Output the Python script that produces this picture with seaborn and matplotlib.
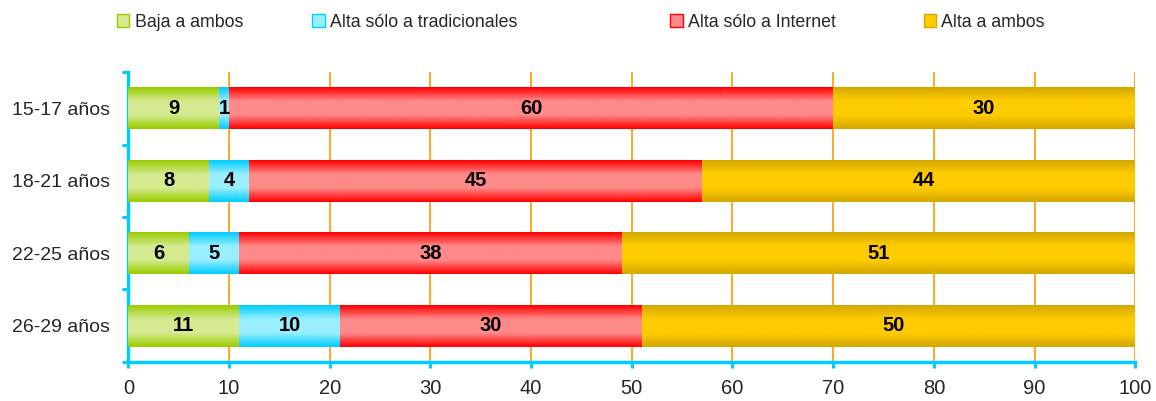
import numpy as np
import matplotlib
matplotlib.use("Agg")
import matplotlib.pyplot as plt
import matplotlib.patches as mpatches
from matplotlib.colors import LinearSegmentedColormap
import pandas as pd
import seaborn as sns

grupos = ["15-17 años", "18-21 años", "22-25 años", "26-29 años"]
series = ["Baja a ambos", "Alta sólo a tradicionales", "Alta sólo a Internet", "Alta a ambos"]
baja_ambos = [9, 8, 6, 11]
alta_trad = [1, 4, 5, 10]
alta_internet = [60, 45, 38, 30]
alta_ambos = [30, 44, 51, 50]
x_ticks = [0, 10, 20, 30, 40, 50, 60, 70, 80, 90, 100]

# (borde, centro) del degradado de cada serie
colores = [
    ("#99cc00", "#d6ea90"),
    ("#00ccff", "#99eeff"),
    ("#ff0000", "#ff8a8a"),
    ("#d4a800", "#ffcc00"),
]
legend_x = [0.101, 0.270, 0.580, 0.799]

valores = [baja_ambos, alta_trad, alta_internet, alta_ambos]
df = pd.DataFrame({"grupo": grupos})
acum = np.zeros(len(grupos))
for nombre, vals in zip(series, valores):
    acum = acum + np.array(vals)
    df[nombre] = acum.copy()

sns.set_style("white")
plt.rcParams["font.family"] = ["Liberation Sans", "DejaVu Sans"]

fig, ax = plt.subplots(figsize=(11.56, 4.01), dpi=100)
fig.subplots_adjust(left=0.111, right=0.982, top=0.82, bottom=0.098)

# barras apiladas: se dibuja de la mayor suma a la menor
for nombre, (borde, centro) in reversed(list(zip(series, colores))):
    sns.barplot(data=df, y="grupo", x=nombre, orient="h", color=centro,
                width=0.58, saturation=1, linewidth=0, ax=ax, zorder=3)

# degradado vertical dentro de cada barra (recortado a 0-100)
n = len(grupos)
for idx, patch in enumerate(ax.patches):
    serie_idx = len(series) - 1 - idx // n
    borde, centro = colores[serie_idx]
    cmap = LinearSegmentedColormap.from_list("g", [borde, centro, centro, borde])
    x0, y0 = patch.get_x(), patch.get_y()
    w, h = patch.get_width(), patch.get_height()
    x1 = min(x0 + w, 100)
    patch.set_width(x1 - x0)
    grad = np.linspace(0, 1, 64).reshape(-1, 1)
    im = ax.imshow(grad, cmap=cmap, aspect="auto", extent=(x0, x1, y0 + h, y0),
                   zorder=3.5, interpolation="bicubic")
    im.set_clip_path(patch)

# etiquetas de valores
acum = np.zeros(n)
for vals in valores:
    for i, v in enumerate(vals):
        ax.text(acum[i] + v / 2, i, str(v), ha="center", va="center",
                fontsize=14.5, fontweight="bold", color="black", zorder=5)
    acum = acum + np.array(vals)

ax.set_xlim(0, 100)
ax.set_ylim(n - 0.5, -0.5)
ax.set_xticks(x_ticks)
ax.set_xlabel("")
ax.set_ylabel("")
ax.set_yticks(np.arange(n + 1) - 0.5, minor=True)
ax.tick_params(bottom=True, left=True, which="both")
ax.tick_params(axis="y", which="major", length=0, pad=13, labelsize=14)
ax.tick_params(axis="y", which="minor", length=4.5, width=2.2, color="#00ccff", direction="out")
ax.tick_params(axis="x", which="major", length=4.5, width=2.2, color="#00ccff",
               direction="out", labelsize=14.5, pad=8)
ax.grid(axis="x", color="#ff9900", linewidth=1.2, zorder=0)
ax.set_axisbelow(True)
for lado in ["top", "right"]:
    ax.spines[lado].set_visible(False)
for lado in ["left", "bottom"]:
    ax.spines[lado].set_color("#00ccff")
    ax.spines[lado].set_linewidth(2.5)

for nombre, (borde, centro), lx in zip(series, colores, legend_x):
    h = mpatches.Patch(facecolor=centro, edgecolor=borde, linewidth=1)
    leg = fig.legend([h], [nombre], loc="center left", bbox_to_anchor=(lx, 0.945),
                     frameon=False, fontsize=12.8, handlelength=0.7, handleheight=0.7,
                     handletextpad=0.3, borderpad=0, borderaxespad=0)

fig.savefig("out.png", dpi=100)
